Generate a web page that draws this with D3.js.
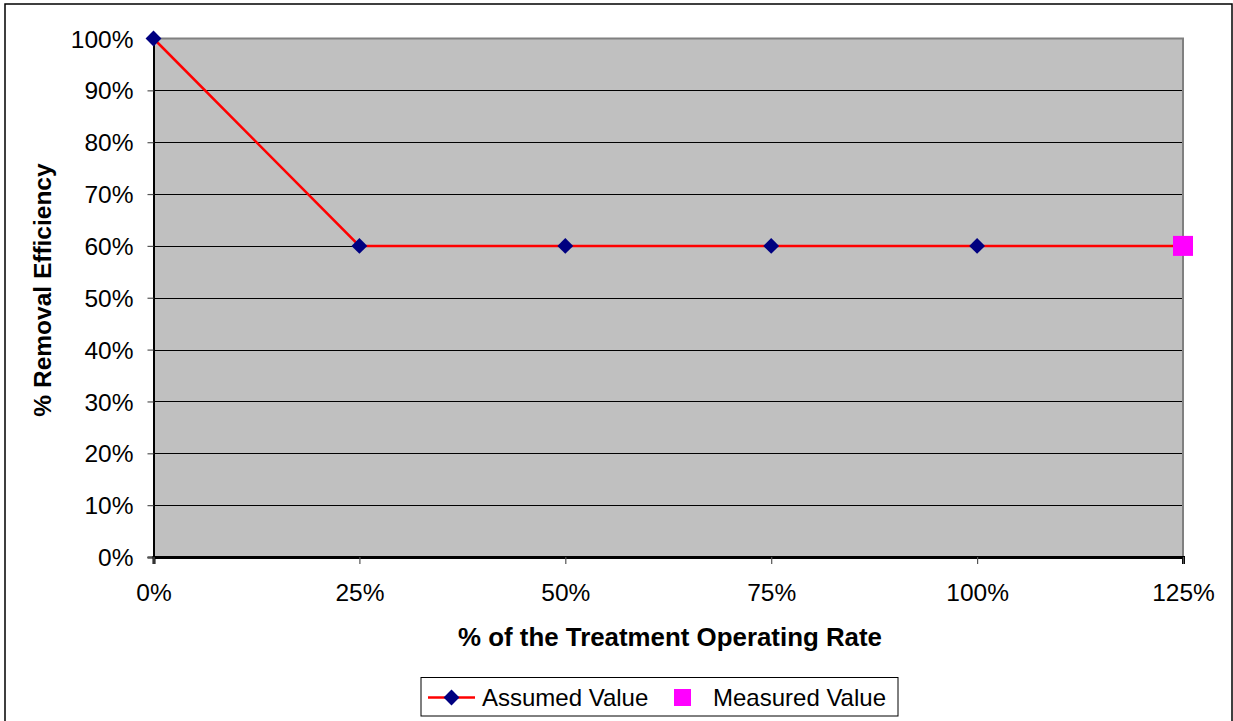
<!DOCTYPE html>
<html>
<head>
<meta charset="utf-8">
<script src="https://cdn.jsdelivr.net/npm/d3@7"></script>
<style>
  html, body { margin: 0; padding: 0; background: #ffffff; }
  svg { display: block; font-family: "Liberation Sans", Arial, sans-serif; }
</style>
</head>
<body>
<svg id="chart" width="1233" height="721"></svg>
<script>
// Operating rate (fraction of treatment rate) for each data point
const operatingRate = [0, 0.25, 0.5, 0.75, 1.0, 1.25];
// Assumed removal efficiency at each operating rate
const assumedEfficiency = [1.0, 0.6, 0.6, 0.6, 0.6, 0.6];
// Measured removal efficiency
const measuredRate = [1.25];
const measuredEfficiency = [0.6];
// Axis ticks
const xTicks = [0, 0.25, 0.5, 0.75, 1.0, 1.25];
const yTicks = [0, 0.1, 0.2, 0.3, 0.4, 0.5, 0.6, 0.7, 0.8, 0.9, 1.0];

const seriesNames = ["Assumed Value", "Measured Value"];

const svg = d3.select("#chart");
const W = 1233, H = 721;
const plot = { left: 153.5, right: 1183, top: 38.5, bottom: 557 };

svg.append("rect").attr("width", W).attr("height", H).attr("fill", "#fff");
// outer chart frame
svg.append("rect")
  .attr("x", 5).attr("y", 4).attr("width", 1227).attr("height", 740)
  .attr("fill", "none").attr("stroke", "#000").attr("stroke-width", 1.5);

const x = d3.scaleLinear().domain([0, 1.25]).range([plot.left, plot.right]);
const y = d3.scaleLinear().domain([0, 1]).range([plot.bottom, plot.top]);
const pct = d3.format(".0%");

// plot area background
svg.append("rect")
  .attr("x", plot.left).attr("y", plot.top)
  .attr("width", plot.right - plot.left).attr("height", plot.bottom - plot.top)
  .attr("fill", "#c0c0c0");

// horizontal gridlines
svg.append("g").selectAll("line")
  .data(yTicks.filter(d => d > 0 && d < 1))
  .join("line")
  .attr("x1", plot.left).attr("x2", plot.right)
  .attr("y1", d => Math.round(y(d)) + 0.5).attr("y2", d => Math.round(y(d)) + 0.5)
  .attr("stroke", "#000").attr("stroke-width", 1);

// top and right plot border
svg.append("path")
  .attr("d", `M${plot.left},${plot.top}H${plot.right}V${plot.bottom}`)
  .attr("fill", "none").attr("stroke", "#808080").attr("stroke-width", 2);

// y axis
const yAxis = svg.append("g")
  .attr("transform", `translate(${plot.left},0)`)
  .call(d3.axisLeft(y).tickValues(yTicks).tickFormat(pct).tickSize(6).tickPadding(14));
yAxis.select(".domain").attr("stroke", "#000").attr("stroke-width", 2);
yAxis.selectAll(".tick line").attr("stroke", "#555").attr("stroke-width", 1.2);
yAxis.selectAll("text").attr("font-size", 24.5).attr("fill", "#000").attr("dy", "0.35em");

// x axis
const xAxis = svg.append("g")
  .attr("transform", `translate(0,${plot.bottom})`)
  .call(d3.axisBottom(x).tickValues(xTicks).tickFormat(pct).tickSize(7).tickPadding(20));
xAxis.select(".domain").attr("stroke", "#000").attr("stroke-width", 3);
xAxis.selectAll(".tick line").attr("stroke", "#555").attr("stroke-width", 1.2);
xAxis.selectAll("text").attr("font-size", 24.5).attr("fill", "#000");

// axis titles
svg.append("text")
  .attr("x", 670).attr("y", 646)
  .attr("text-anchor", "middle").attr("font-size", 26).attr("font-weight", "bold")
  .text("% of the Treatment Operating Rate")
  .attr("textLength", 424).attr("lengthAdjust", "spacingAndGlyphs");
svg.append("text")
  .attr("transform", "translate(51,290) rotate(-90)")
  .attr("text-anchor", "middle").attr("font-size", 24.5).attr("font-weight", "bold")
  .text("% Removal Efficiency");

// assumed value line
const assumed = operatingRate.map((r, i) => ({ r, e: assumedEfficiency[i] }));
svg.append("path")
  .datum(assumed)
  .attr("d", d3.line().x(d => x(d.r)).y(d => y(d.e)))
  .attr("fill", "none").attr("stroke", "#ff0000").attr("stroke-width", 2.5);

const diamond = d3.symbol().type(d3.symbolDiamond2).size(160);
svg.append("g").selectAll("path")
  .data(assumed)
  .join("path")
  .attr("transform", d => `translate(${x(d.r)},${y(d.e)})`)
  .attr("d", diamond)
  .attr("fill", "#000080");

// measured value markers
const measured = measuredRate.map((r, i) => ({ r, e: measuredEfficiency[i] }));
svg.append("g").selectAll("rect")
  .data(measured)
  .join("rect")
  .attr("x", d => x(d.r) - 10).attr("y", d => y(d.e) - 10)
  .attr("width", 20).attr("height", 20)
  .attr("fill", "#ff00ff");

// legend
const lg = svg.append("g");
lg.append("rect")
  .attr("x", 421).attr("y", 677.5).attr("width", 477).attr("height", 38.5)
  .attr("fill", "#fff").attr("stroke", "#000").attr("stroke-width", 1);
lg.append("line")
  .attr("x1", 428).attr("x2", 475).attr("y1", 697.5).attr("y2", 697.5)
  .attr("stroke", "#ff0000").attr("stroke-width", 2.5);
lg.append("path")
  .attr("transform", "translate(451.5,697.5)")
  .attr("d", diamond).attr("fill", "#000080");
lg.append("text")
  .attr("x", 482).attr("y", 706).attr("font-size", 24).text(seriesNames[0]);
lg.append("rect")
  .attr("x", 674).attr("y", 689).attr("width", 17).attr("height", 17)
  .attr("fill", "#ff00ff");
lg.append("text")
  .attr("x", 713).attr("y", 706).attr("font-size", 24).text(seriesNames[1]);
</script>
</body>
</html>
